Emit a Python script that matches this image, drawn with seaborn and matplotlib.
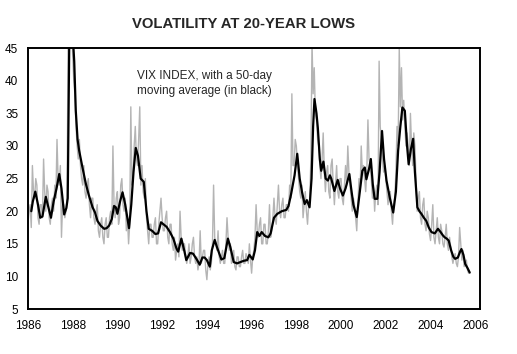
import numpy as np
import pandas as pd
import matplotlib
matplotlib.use('Agg')
import matplotlib.pyplot as plt
import seaborn as sns

# Daily VIX (gray) at ~0.05 year steps
vix_start = 1986.0
vix_step = 0.05
vix_vals = [
    18, 20, 21, 17.5, 27, 23, 22, 25, 24, 19, 18, 21, 21, 19, 28, 23, 20, 24, 23, 19,          # 1986
    18, 21, 22, 20, 24, 22, 31, 25, 24, 27, 16, 21, 21, 19, 20, 22, 48, 60, 47, 52,            # 1987
    44, 40, 38, 33, 30, 28, 31, 27, 25, 24, 27, 23, 22, 24, 25, 21, 19, 22, 22, 19,            # 1988
    18, 20, 21, 17, 16, 18, 19, 16, 15, 18, 19, 16, 16, 19, 20, 18, 30, 21, 19, 22,            # 1989
    23, 18, 19, 24, 25, 21, 20, 22, 17, 19, 15, 18, 36, 24, 25, 30, 33, 28, 27, 31,            # 1990
    36, 24, 27, 23, 22, 25, 19, 17, 15, 18, 18, 16, 16, 18, 19, 15, 15, 18, 20, 22,            # 1991
    19, 17, 17, 19, 20, 16, 15, 18, 18, 15, 14, 16, 12.5, 14, 15, 13, 20, 16, 14, 15,          # 1992
    15, 13, 12, 13, 15, 12, 13, 15, 16, 13, 12, 13, 11, 12, 17, 12, 13, 14, 14, 11,            # 1993
    9.5, 12, 13, 11, 12, 15, 24, 16, 15, 14, 17, 13, 12, 13, 14, 12, 12, 15, 19, 16,           # 1994
    14, 15, 12, 13, 14, 11.5, 11, 13, 13, 11.5, 11.5, 13, 14, 12, 12, 13.5, 13, 12, 15, 12.5,  # 1995
    10.5, 13, 14, 16, 21, 17, 16, 18, 19, 15, 15, 18, 18, 15, 15, 17, 21, 16, 17, 19,          # 1996
    22, 19, 18, 21, 24, 20, 19, 21, 22, 19, 19, 21, 21, 20, 24, 22, 38, 27, 27, 31,            # 1997
    30, 27, 25, 23, 22, 24, 19, 21, 23, 20, 18, 21, 22, 28, 46, 38, 42, 35, 34, 31,            # 1998
    30, 27, 25, 28, 32, 26, 23, 26, 27, 23, 22, 27, 28, 24, 21, 24, 27, 23, 22, 25,            # 1999
    25, 22, 21, 24, 27, 24, 30, 26, 24, 22, 20, 22, 21, 19, 17, 21, 25, 23, 30, 26,            # 2000
    27, 25, 23, 26, 34, 28, 27, 25, 22, 24, 20, 23, 24, 21, 43, 33, 31, 28, 26, 27,            # 2001
    25, 23, 21, 23, 23, 20, 18, 21, 22, 26, 33, 30, 45, 36, 42, 34, 37, 33, 30, 32,            # 2002
    30, 27, 35, 30, 27, 32, 30, 25, 20, 22, 23, 19, 18, 21, 22, 18, 17, 20, 19, 16.5,          # 2003
    15.5, 18, 21, 16, 15, 17, 19, 16, 15, 18, 17, 15, 14.5, 16, 18, 15, 14, 16, 14.5, 13,      # 2004
    12, 13, 13.5, 12, 11.5, 13, 17.5, 15, 12.5, 14, 11.5, 12, 12.5, 11, 10.5, 10.5,            # 2005
]
vix_years = vix_start + vix_step * np.arange(len(vix_vals))

# 50-day moving average (black)
ma_years = [
    1986.15, 1986.22, 1986.33, 1986.45, 1986.55, 1986.65, 1986.80, 1986.92,
    1987.03, 1987.15, 1987.28, 1987.40, 1987.50, 1987.62, 1987.72, 1987.78,
    1987.82, 1987.86, 1987.95, 1988.02, 1988.07, 1988.14, 1988.22, 1988.29,
    1988.45, 1988.59, 1988.72, 1988.89, 1989.00, 1989.11, 1989.25, 1989.41,
    1989.52, 1989.63, 1989.75, 1989.85, 1989.93, 1990.00, 1990.12, 1990.23,
    1990.35, 1990.52, 1990.62, 1990.72, 1990.82, 1990.92, 1991.04, 1991.18,
    1991.30, 1991.40, 1991.55, 1991.70, 1991.82, 1991.95, 1992.06, 1992.20,
    1992.35, 1992.50, 1992.65, 1992.72, 1992.86, 1993.00, 1993.08, 1993.25,
    1993.38, 1993.55, 1993.68, 1993.80, 1993.90, 1994.00, 1994.13, 1994.22,
    1994.35, 1994.45, 1994.65, 1994.78, 1994.94, 1995.05, 1995.20, 1995.35,
    1995.50, 1995.65, 1995.80, 1995.90, 1996.05, 1996.15, 1996.25, 1996.35,
    1996.45, 1996.60, 1996.75, 1996.85, 1997.00, 1997.15, 1997.35, 1997.55,
    1997.65, 1997.77, 1997.92, 1998.04, 1998.15, 1998.25, 1998.37, 1998.47,
    1998.59, 1998.68, 1998.75, 1998.81, 1998.90, 1998.96, 1999.05, 1999.11,
    1999.21, 1999.31, 1999.41, 1999.50, 1999.56, 1999.70, 1999.85, 1999.95,
    2000.08, 2000.20, 2000.37, 2000.45, 2000.55, 2000.70, 2000.82, 2000.95,
    2001.06, 2001.13, 2001.25, 2001.33, 2001.42, 2001.50, 2001.62, 2001.72,
    2001.83, 2001.92, 2002.03, 2002.18, 2002.33, 2002.45, 2002.55, 2002.65,
    2002.74, 2002.85, 2002.95, 2003.02, 2003.12, 2003.22, 2003.30, 2003.41,
    2003.50, 2003.59, 2003.70, 2003.81, 2003.92, 2004.04, 2004.19, 2004.33,
    2004.45, 2004.55, 2004.63, 2004.72, 2004.81, 2004.92, 2005.02, 2005.10,
    2005.22, 2005.32, 2005.38, 2005.47, 2005.55, 2005.65, 2005.75,
]
ma_vals = [
    20.0, 21.5, 23.0, 21.0, 19.0, 19.2, 22.2, 20.5,
    19.0, 21.5, 23.5, 25.7, 23.5, 19.5, 20.5, 22.0,
    36.0, 50.0, 52.0, 46.0, 43.0, 35.4, 31.0, 29.3,
    26.5, 24.2, 22.5, 20.6, 19.8, 18.5, 17.8, 17.3,
    17.4, 17.8, 18.8, 20.8, 20.6, 19.6, 21.5, 22.9,
    21.0, 17.4, 21.0, 26.0, 29.7, 28.5, 25.0, 24.5,
    20.0, 17.3, 17.0, 16.5, 16.6, 18.3, 18.0, 17.6,
    16.8, 15.8, 14.2, 13.8, 15.8, 13.8, 12.5, 13.6,
    13.5, 12.6, 11.8, 12.9, 12.9, 12.5, 11.5, 14.0,
    15.6, 14.5, 12.6, 12.8, 15.8, 14.5, 12.2, 12.0,
    12.2, 12.4, 12.5, 13.3, 12.6, 14.0, 16.8, 16.2,
    16.8, 16.2, 16.0, 16.6, 19.0, 19.6, 20.0, 20.2,
    20.8, 22.7, 25.5, 28.8, 25.0, 23.0, 21.1, 21.7,
    20.6, 25.0, 33.0, 37.2, 35.0, 32.8, 28.0, 26.2,
    27.6, 25.0, 24.7, 25.5, 25.0, 23.1, 24.8, 23.5,
    22.4, 23.5, 25.7, 23.5, 21.0, 19.1, 22.5, 26.2,
    26.7, 24.9, 26.5, 28.0, 24.0, 21.9, 21.9, 26.0,
    32.3, 28.0, 24.7, 22.0, 19.8, 23.0, 29.3, 33.0,
    35.9, 35.4, 30.0, 27.2, 29.5, 31.1, 26.0, 20.6,
    20.0, 19.6, 19.0, 18.5, 17.5, 16.8, 16.6, 17.3,
    16.8, 16.3, 16.0, 15.8, 15.5, 14.0, 13.0, 12.7,
    12.9, 13.8, 14.2, 13.3, 11.9, 11.3, 10.6,
]

x_ticks = list(range(1986, 2007, 2))
y_ticks = list(range(5, 46, 5))

sns.set_style('white')
plt.rcParams['font.family'] = ['Liberation Sans', 'DejaVu Sans']

fig = plt.figure(figsize=(5.17, 3.54), dpi=100)
ax = fig.add_axes([0.054, 0.127, 0.874, 0.737])

sns.lineplot(x=vix_years, y=vix_vals, color='#b4b4b4', linewidth=1.0,
             estimator=None, ax=ax)
sns.lineplot(x=ma_years, y=ma_vals, color='black', linewidth=1.6,
             estimator=None, ax=ax)

ax.set_xlim(1986, 2006.2)
ax.set_ylim(5, 45)
ax.set_xticks(x_ticks)
ax.set_yticks(y_ticks)
ax.tick_params(axis='both', direction='out', length=3, width=0.8,
               labelsize=8.5, color='black', labelcolor='black')
ax.tick_params(axis='x', pad=5)
ax.tick_params(axis='y', pad=4)
ax.set_xlabel('')
ax.set_ylabel('')
for s in ax.spines.values():
    s.set_color('black')
    s.set_linewidth(1.4)

ax.text(0.241, 0.915, 'VIX INDEX, with a 50-day\nmoving average (in black)',
        transform=ax.transAxes, fontsize=8.5, va='top', ha='left',
        linespacing=1.3)

fig.text(244 / 517, 1 - 24.5 / 354, 'VOLATILITY AT 20-YEAR LOWS',
         fontsize=10.7, fontweight='bold', ha='center', va='center')

fig.savefig('out.png', dpi=100)
